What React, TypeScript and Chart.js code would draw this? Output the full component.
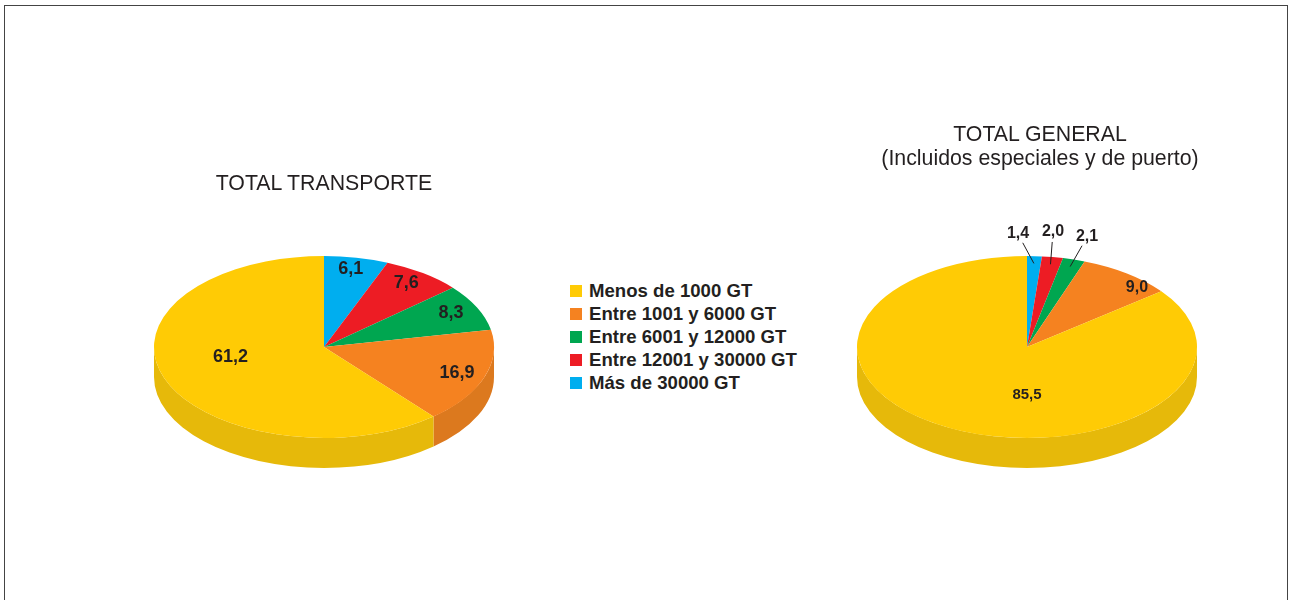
import React, { useEffect, useRef } from "react";
import { Chart, registerables } from "chart.js";
Chart.register(...registerables);

// Legend order (as shown in the legend)
const legendLabels = [
  "Menos de 1000 GT",
  "Entre 1001 y 6000 GT",
  "Entre 6001 y 12000 GT",
  "Entre 12001 y 30000 GT",
  "Más de 30000 GT",
];
const legendColors = ["#FFCB05", "#F58220", "#00A650", "#ED1C24", "#00AEEF"];

// Pie slice order, clockwise from 12 o'clock
const sliceCategories = [
  "Más de 30000 GT",
  "Entre 12001 y 30000 GT",
  "Entre 6001 y 12000 GT",
  "Entre 1001 y 6000 GT",
  "Menos de 1000 GT",
];
const sliceColors = ["#00AEEF", "#ED1C24", "#00A650", "#F58220", "#FFCB05"];
const sliceSideColors = ["#0096CF", "#C8161D", "#008C44", "#DC791E", "#E6B90A"];

const transporteValues = [6.1, 7.6, 8.3, 16.9, 61.2];
const generalValues = [1.4, 2.0, 2.1, 9.0, 85.5];

const titleTransporte = ["TOTAL TRANSPORTE"];
const titleGeneral = ["TOTAL GENERAL", "(Incluidos especiales y de puerto)"];

const FONT = "'Liberation Sans', Arial, Helvetica, sans-serif";
const TEXT = "#231F20";

const fmt = (v: number) => v.toFixed(1).replace(".", ",");

const pie3d = {
  id: "pie3d",
  beforeDatasetsDraw(chart: any, _args: any, opts: any) {
    const arcs = chart.getDatasetMeta(0).data;
    if (!arcs.length) return;
    const cx = arcs[0].x, cy = arcs[0].y, rx = arcs[0].outerRadius;
    const ry = rx * opts.ratio;
    const ctx = chart.ctx;
    ctx.save();
    arcs.forEach((a: any, i: number) => {
      const s = a.startAngle, e = a.endAngle;
      const ranges = [[-2 * Math.PI, -Math.PI], [0, Math.PI], [2 * Math.PI, 3 * Math.PI]];
      for (const [lo, hi] of ranges) {
        const a1 = Math.max(s, lo), a2 = Math.min(e, hi);
        if (a2 > a1) {
          ctx.beginPath();
          ctx.ellipse(cx, cy, rx, ry, 0, a1, a2, false);
          ctx.ellipse(cx, cy + opts.depth, rx, ry, 0, a2, a1, true);
          ctx.closePath();
          ctx.fillStyle = opts.sideColors[i];
          ctx.fill();
        }
      }
    });
    ctx.restore();
    ctx.save();
    ctx.translate(cx, cy);
    ctx.scale(1, opts.ratio);
    ctx.translate(-cx, -cy);
  },
  afterDatasetsDraw(chart: any, _args: any, opts: any) {
    const ctx = chart.ctx;
    ctx.restore();
    const arcs = chart.getDatasetMeta(0).data;
    if (!arcs.length) return;
    const data: number[] = chart.data.datasets[0].data;
    const cx = arcs[0].x, cy = arcs[0].y, rx = arcs[0].outerRadius;
    const ry = rx * opts.ratio;
    const maxV = Math.max(...data);
    ctx.save();
    ctx.fillStyle = TEXT;
    ctx.strokeStyle = TEXT;
    ctx.lineWidth = 1;
    ctx.textAlign = "center";
    ctx.textBaseline = "middle";
    let k = 0;
    arcs.forEach((a: any, i: number) => {
      const v = data[i];
      const mid = (a.startAngle + a.endAngle) / 2;
      if (v === maxV) {
        ctx.font = `bold ${opts.bigFontSize}px ${FONT}`;
        ctx.fillText(fmt(v), cx + opts.big.dx * rx, cy + opts.big.dy * ry);
      } else if (v < opts.smallThreshold) {
        ctx.font = `bold ${opts.fontSize}px ${FONT}`;
        const an = opts.outside[k++];
        const lx = cx + an.dx, ly = cy + an.dy;
        const ex = cx + Math.cos(mid) * rx * 0.92;
        const ey = cy + Math.sin(mid) * ry * 0.92;
        const dx = ex - lx, dy = ey - ly;
        const d = Math.hypot(dx, dy);
        ctx.beginPath();
        ctx.moveTo(lx + (dx / d) * 10, ly + (dy / d) * 10);
        ctx.lineTo(ex, ey);
        ctx.stroke();
        ctx.fillText(fmt(v), lx, ly);
      } else {
        ctx.font = `bold ${opts.fontSize}px ${FONT}`;
        ctx.fillText(
          fmt(v),
          cx + Math.cos(mid) * rx * opts.fx,
          cy + Math.sin(mid) * ry * opts.fy
        );
      }
    });
    ctx.restore();
  },
};

function Pie({ values, pluginOpts }: { values: number[]; pluginOpts: any }) {
  const ref = useRef<HTMLCanvasElement>(null);
  useEffect(() => {
    if (!ref.current) return;
    const chart = new Chart(ref.current, {
      type: "pie",
      data: {
        labels: sliceCategories,
        datasets: [
          {
            data: values,
            backgroundColor: sliceColors,
            borderWidth: 0,
          },
        ],
      },
      options: {
        animation: false,
        responsive: false,
        maintainAspectRatio: false,
        events: [],
        layout: { padding: 10 },
        plugins: {
          legend: { display: false },
          tooltip: { enabled: false },
          title: { display: false },
          pie3d: pluginOpts,
        } as any,
      },
      plugins: [pie3d as any],
    });
    return () => chart.destroy();
  }, []);
  return <canvas ref={ref} width={360} height={360} style={{ width: 360, height: 360, display: "block" }} />;
}

export default function App() {
  return (
    <div
      style={{
        position: "fixed",
        left: 0,
        top: 0,
        width: 1290,
        height: 600,
        background: "#fff",
        overflow: "hidden",
        fontFamily: FONT,
        color: TEXT,
      }}
    >
      <div
        style={{
          position: "absolute",
          left: 4,
          top: 5,
          width: 1284,
          height: 700,
          border: "1px solid #444",
          boxSizing: "border-box",
        }}
      />
      <div style={{ position: "absolute", left: 144, top: 167 }}>
        <Pie
          values={transporteValues}
          pluginOpts={{
            ratio: 0.535,
            depth: 30,
            sideColors: sliceSideColors,
            fontSize: 18,
            bigFontSize: 18,
            fx: 0.83,
            fy: 0.87,
            big: { dx: -0.55, dy: 0.11 },
            smallThreshold: 0,
            outside: [],
          }}
        />
      </div>
      <div style={{ position: "absolute", left: 847, top: 167 }}>
        <Pie
          values={generalValues}
          pluginOpts={{
            ratio: 0.535,
            depth: 30,
            sideColors: sliceSideColors,
            fontSize: 16,
            bigFontSize: 15,
            fx: 1.1,
            fy: 0.81,
            big: { dx: 0, dy: 0.53 },
            smallThreshold: 3,
            outside: [
              { dx: -9, dy: -113 },
              { dx: 26, dy: -115 },
              { dx: 60, dy: -110 },
            ],
          }}
        />
      </div>
      <div
        style={{
          position: "absolute",
          left: 124,
          width: 400,
          top: 171,
          textAlign: "center",
          fontSize: 21.3,
          lineHeight: "24px",
        }}
      >
        {titleTransporte.map((t) => (
          <div key={t}>{t}</div>
        ))}
      </div>
      <div
        style={{
          position: "absolute",
          left: 840,
          width: 400,
          top: 122,
          textAlign: "center",
          fontSize: 21.3,
          lineHeight: "24px",
        }}
      >
        {titleGeneral.map((t) => (
          <div key={t}>{t}</div>
        ))}
      </div>
      <div style={{ position: "absolute", left: 570, top: 279.5 }}>
        {legendLabels.map((l, i) => (
          <div
            key={l}
            style={{ display: "flex", alignItems: "center", height: 23 }}
          >
            <div style={{ width: 12, height: 12, background: legendColors[i], marginRight: 7 }} />
            <span style={{ fontWeight: "bold", fontSize: 18.6, whiteSpace: "nowrap" }}>{l}</span>
          </div>
        ))}
      </div>
    </div>
  );
}
